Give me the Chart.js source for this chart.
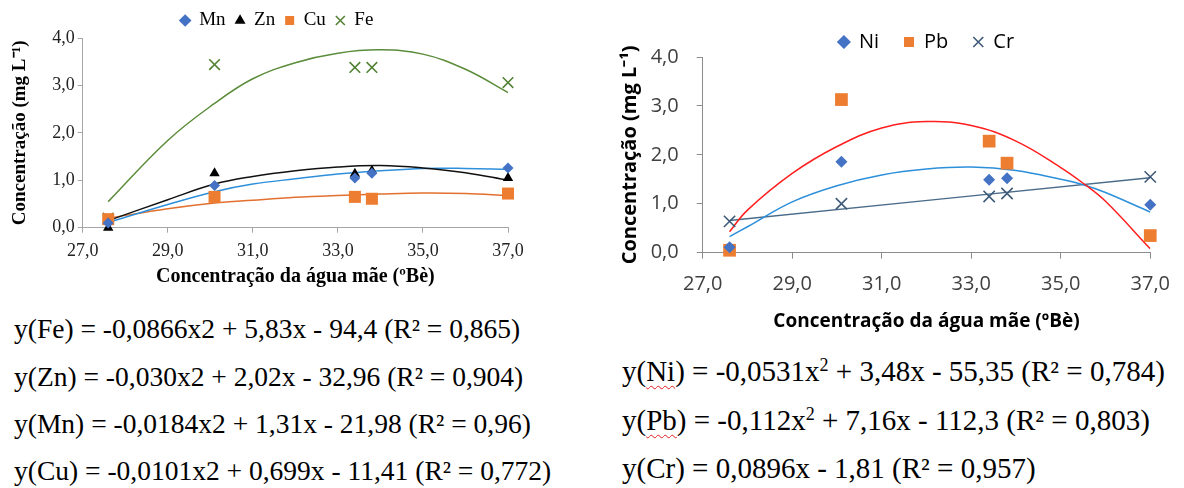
<!DOCTYPE html>
<html lang="pt">
<head>
<meta charset="utf-8">
<title>Concentração de metais na água mãe</title>
<script src="https://cdn.jsdelivr.net/npm/chart.js@4.4.1/dist/chart.umd.min.js"></script>
<style>
    html, body { margin: 0; padding: 0; background: #fff; }
    body { width: 1184px; height: 488px; position: relative; overflow: hidden; }
    .grafico { position: absolute; }
    #caixa-esq { left: 0; top: 0; width: 560px; height: 300px; }
    #caixa-dir { left: 590px; top: 0; width: 594px; height: 340px; }
    .eq {
        position: absolute;
        font-family: 'Liberation Serif', 'Times New Roman', serif;
        font-size: 27.5px;
        line-height: 30px;
        color: #000;
        white-space: nowrap;
    }
    .eq.dir { font-size: 29px; }
    .eq sup { font-size: 0.62em; line-height: 0; vertical-align: 0.55em; }
    .erro { text-decoration: underline wavy #e02020; text-decoration-thickness: 1px; text-underline-offset: 4px; }
</style>
</head>
<body>
<div class="grafico" id="caixa-esq"><canvas id="grafico-esq"></canvas></div>
<div class="grafico" id="caixa-dir"><canvas id="grafico-dir"></canvas></div>

<div class="eq" style="left:14px; top:314px;">y(Fe) = -0,0866x2 + 5,83x - 94,4 (R² = 0,865)</div>
<div class="eq" style="left:14px; top:362px;">y(Zn) = -0,030x2 + 2,02x - 32,96 (R² = 0,904)</div>
<div class="eq" style="left:14px; top:409px;">y(Mn) = -0,0184x2 + 1,31x - 21,98 (R² = 0,96)</div>
<div class="eq" style="left:14px; top:456px;">y(Cu) = -0,0101x2 + 0,699x - 11,41 (R² = 0,772)</div>

<div class="eq dir" style="left:622px; top:356px;">y(<span class="erro">Ni</span>) = -0,0531x<sup>2</sup> + 3,48x - 55,35 (R² = 0,784)</div>
<div class="eq dir" style="left:622px; top:405px;">y(<span class="erro">Pb</span>) = -0,112x<sup>2</sup> + 7,16x - 112,3 (R² = 0,803)</div>
<div class="eq dir" style="left:622px; top:453px;">y(Cr) = 0,0896x - 1,81 (R² = 0,957)</div>

<script>
// Concentração da água mãe (ºBè) das amostras
const xAmostras = [27.6, 30.1, 33.4, 33.8, 37.0];

// Gráfico da esquerda: Mn, Zn, Cu, Fe (mg/L)
const mnValores = [0.10, 0.89, 1.05, 1.15, 1.26];
const znValores = [0.00, 1.15, 1.14, 1.20, 1.05];
const cuValores = [0.18, 0.65, 0.65, 0.61, 0.72];
const feValores = [0.20, 3.44, 3.38, 3.38, 3.06];

const xCurvaEsq = [27.6, 29.0, 30.1, 31.0, 32.0, 33.0, 34.0, 35.0, 36.0, 37.0];
const feCurva = [0.55, 1.84, 2.62, 3.14, 3.48, 3.68, 3.75, 3.66, 3.34, 2.85];
const znCurva = [0.15, 0.59, 0.92, 1.08, 1.20, 1.28, 1.31, 1.26, 1.16, 1.00];
const mnCurva = [0.11, 0.49, 0.76, 0.92, 1.03, 1.13, 1.20, 1.25, 1.25, 1.23];
const cuCurva = [0.20, 0.40, 0.52, 0.58, 0.64, 0.68, 0.71, 0.73, 0.72, 0.68];

// Gráfico da direita: Ni, Pb, Cr (mg/L)
const niValores = [0.11, 1.86, 1.49, 1.52, 0.98];
const pbValores = [0.05, 3.13, 2.28, 1.83, 0.35];
const crValores = [0.64, 1.00, 1.15, 1.21, 1.55];

const xCurvaDir = [27.6, 28.0, 29.0, 30.0, 31.0, 32.0, 33.0, 34.0, 35.0, 35.5, 36.0, 37.0];
const pbCurva = [0.43, 0.87, 1.62, 2.17, 2.55, 2.68, 2.60, 2.28, 1.74, 1.42, 1.05, 0.08];
const niCurva = [0.33, 0.53, 1.04, 1.37, 1.59, 1.71, 1.75, 1.68, 1.50, 1.39, 1.23, 0.83];
const xCurvaCr = [27.6, 37.0];
const crCurva = [0.66, 1.53];

// Eixos
const eixoXMin = 27, eixoXMax = 37, eixoXPasso = 2;
const eixoYMin = 0, eixoYMax = 4, eixoYPasso = 1;
const tituloEixoX = 'Concentração da água mãe (ºBè)';
const tituloEixoY = 'Concentração (mg L⁻¹)';

// Junta x e y em pontos {x, y}
function pontos(xs, ys) {
    return xs.map((x, i) => ({ x: x, y: ys[i] }));
}

// Vírgula decimal, como no original
function formatar(valor) {
    return valor.toFixed(1).replace('.', ',');
}

function serieMarcadores(rotulo, valores, estilo, raio, cor) {
    const cruz = estilo === 'crossRot';
    return {
        label: rotulo,
        data: pontos(xAmostras, valores),
        pointStyle: estilo,
        pointRadius: raio,
        backgroundColor: cor,
        borderColor: cor,
        pointBorderWidth: cruz ? 1.6 : 0,
        borderWidth: cruz ? 1.6 : 0,
        showLine: false,
        clip: false
    };
}

function serieTendencia(xs, ys, cor) {
    return {
        label: '',
        data: pontos(xs, ys),
        showLine: true,
        borderColor: cor,
        borderWidth: 1.5,
        pointRadius: 0,
        tension: 0.4,
        fill: false
    };
}

function criarEscalas(cfg) {
    return {
        x: {
            type: 'linear',
            min: eixoXMin,
            max: eixoXMax,
            afterFit: (escala) => { escala.height = cfg.alturaX; },
            afterBuildTicks: (escala) => {
                const marcas = [];
                for (let v = eixoXMin; v <= eixoXMax; v += eixoXPasso) marcas.push({ value: v });
                escala.ticks = marcas;
            },
            ticks: {
                callback: formatar,
                color: cfg.corTexto,
                font: { family: cfg.fonte, size: cfg.tamTicks },
                padding: cfg.padTicksX,
                maxRotation: 0
            },
            grid: { drawOnChartArea: false, drawTicks: true, tickLength: cfg.marca, color: cfg.corEixo },
            border: { color: cfg.corEixo, width: 1 },
            title: {
                display: true,
                text: tituloEixoX,
                color: '#000',
                font: { family: cfg.fonte, size: cfg.tamTituloX, weight: 'bold' },
                padding: { top: 0, bottom: cfg.padTituloX }
            }
        },
        y: {
            min: eixoYMin,
            max: eixoYMax,
            afterFit: (escala) => { escala.width = cfg.larguraY; },
            ticks: {
                stepSize: eixoYPasso,
                callback: formatar,
                color: cfg.corTexto,
                font: { family: cfg.fonte, size: cfg.tamTicks },
                padding: cfg.padTicksY
            },
            grid: { drawOnChartArea: false, drawTicks: true, tickLength: cfg.marca, color: cfg.corEixo },
            border: { color: cfg.corEixo, width: 1 },
            title: {
                display: true,
                text: tituloEixoY,
                color: '#000',
                font: { family: cfg.fonte, size: cfg.tamTituloY, weight: 'bold' },
                padding: { top: cfg.padTituloY, bottom: 0 }
            }
        }
    };
}

function criarGrafico(idCanvas, datasets, nMarcadores, cfg) {
    const ctx = document.getElementById(idCanvas).getContext('2d');
    return new Chart(ctx, {
        type: 'scatter',
        data: { datasets: datasets },
        options: {
            responsive: true,
            maintainAspectRatio: false,
            animation: false,
            layout: { padding: cfg.margens },
            plugins: {
                tooltip: { enabled: false },
                legend: {
                    position: 'top',
                    fullSize: cfg.legendaLarga,
                    maxHeight: cfg.alturaLegenda,
                    labels: {
                        usePointStyle: true,
                        boxWidth: cfg.caixaLegenda,
                        boxHeight: cfg.caixaLegenda,
                        padding: cfg.padLegenda,
                        color: '#000',
                        font: { family: cfg.fonte, size: cfg.tamLegenda },
                        filter: (item) => item.datasetIndex < nMarcadores
                    }
                }
            },
            scales: criarEscalas(cfg)
        }
    });
}

// Gráfico da esquerda (Times)
// margem esquerda maior só para centrar a legenda como no original
criarGrafico('grafico-esq', [
    serieMarcadores('Mn', mnValores, 'rectRot', 5.5, '#4472C4'),
    serieMarcadores('Zn', znValores, 'triangle', 6, '#000000'),
    serieMarcadores('Cu', cuValores, 'rect', 8.5, '#ED7D31'),
    serieMarcadores('Fe', feValores, 'crossRot', 7.5, '#548235'),
    serieTendencia(xCurvaEsq, feCurva, '#5B8C3A'),
    serieTendencia(xCurvaEsq, znCurva, '#111111'),
    serieTendencia(xCurvaEsq, mnCurva, '#2E8FDB'),
    serieTendencia(xCurvaEsq, cuCurva, '#E2702E')
], 4, {
    fonte: "'Liberation Serif', 'Times New Roman', serif",
    corTexto: '#222',
    corEixo: '#A6A6A6',
    tamTicks: 18,
    tamTituloX: 20,
    tamTituloY: 19,
    tamLegenda: 19,
    caixaLegenda: 9,
    padLegenda: 10,
    alturaLegenda: 37,
    legendaLarga: true,
    margens: { left: 46, right: 52, top: 1, bottom: 0 },
    larguraY: 36.7,
    alturaX: 72.3,
    marca: 5,
    padTicksX: 8,
    padTicksY: 3,
    padTituloX: 11,
    padTituloY: -37
});

// Gráfico da direita (Calibri -> Open Sans)
criarGrafico('grafico-dir', [
    serieMarcadores('Ni', niValores, 'rectRot', 6, '#4472C4'),
    serieMarcadores('Pb', pbValores, 'rect', 9, '#ED7D31'),
    serieMarcadores('Cr', crValores, 'crossRot', 8, '#3F5A78'),
    serieTendencia(xCurvaDir, pbCurva, '#FF1F1F'),
    serieTendencia(xCurvaDir, niCurva, '#2B8FD9'),
    serieTendencia(xCurvaCr, crCurva, '#4A6B8A')
], 3, {
    fonte: "'Open Sans', 'Liberation Sans', sans-serif",
    corTexto: '#404040',
    corEixo: '#8C8C8C',
    tamTicks: 20,
    tamTituloX: 19,
    tamTituloY: 20,
    tamLegenda: 20,
    caixaLegenda: 10,
    padLegenda: 25,
    alturaLegenda: 50,
    legendaLarga: false,
    margens: { left: 0, right: 31.3, top: 7, bottom: 0 },
    larguraY: 112.7,
    alturaX: 87.3,
    marca: 6,
    padTicksX: 14,
    padTicksY: 18,
    padTituloX: 7,
    padTituloY: 28
});
</script>
</body>
</html>
